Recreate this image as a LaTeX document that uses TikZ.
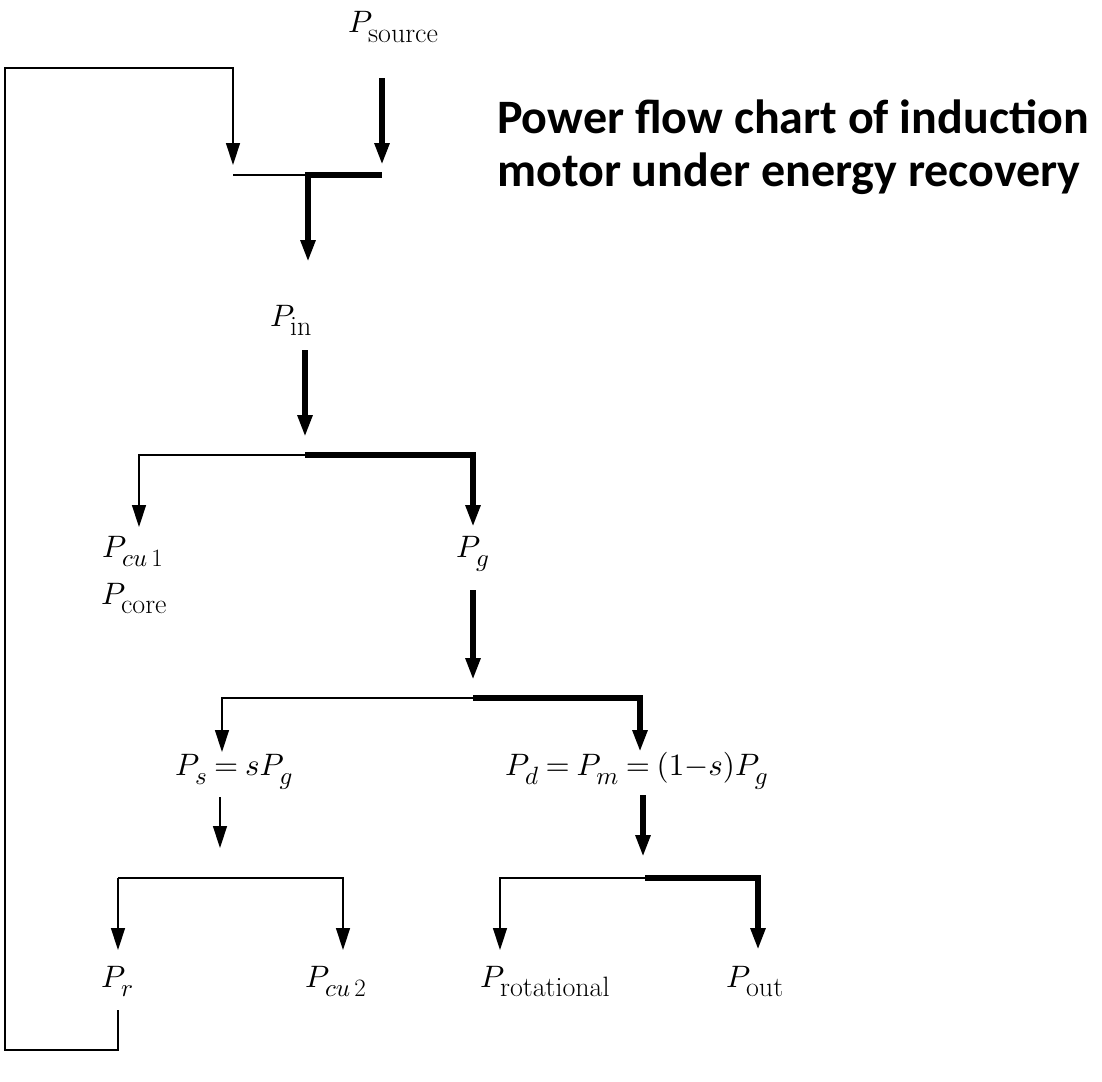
\documentclass[tikz,border=0pt]{standalone}
\usepackage{fontspec}
\DeclareFontShape{OML}{cmm}{m}{it}{<->cmmi10}{}
\DeclareFontShape{OMS}{cmsy}{m}{n}{<->cmsy10}{}
\DeclareFontShape{OT1}{cmr}{m}{n}{<->cmr10}{}
\DeclareFontShape{OMX}{cmex}{m}{n}{<->cmex10}{}
\newfontfamily\titlefont{Carlito}
\thickmuskip=4mu plus 3mu
\newcommand\dn[1]{_{\raisebox{-5pt}{\fontsize{25}{30}\selectfont$#1$}}}
\newcommand\dnr[1]{_{\raisebox{-5pt}{\fontsize{28}{32}\selectfont #1}}}
\usetikzlibrary{arrows.meta}
\begin{document}
\begin{tikzpicture}[x=1pt,y=-1pt,
  thinln/.style={line width=1.4pt},
  thickln/.style={line width=6pt},
  tipped/.style={-{Triangle[length=22pt,width=14pt]}},
  lbl/.style={inner sep=0pt, anchor=base west, font=\fontsize{31}{37}\selectfont},
  line join=miter]
\useasboundingbox (0,0) rectangle (1102,1081);

% labels
\node[lbl] (src) at (348,33) {$P\dnr{source}$};
\node[lbl] (pin) at (270,326) {$P\dnr{in}$};
\node[lbl] (pcu1) at (102,557) {$P\dn{cu\,\mathrm{1}}$};
\node[lbl] (pcore) at (101,604) {$P\dnr{core}$};
\node[lbl] (pg) at (456,557) {$P\dn{g}$};
\node[lbl] (ps) at (175,775) {$P\dn{s} = sP\dn{g}$};
\node[lbl] (pd) at (505,775) {$P\dn{d} = P\dn{m} = (1{-}s)P\dn{g}$};
\node[lbl] (pr) at (101,987) {$P\dn{r}$};
\node[lbl] (pcu2) at (305,987) {$P\dn{cu\,\mathrm{2}}$};
\node[lbl] (prot) at (480,987) {$P\dnr{rotational}$};
\node[lbl] (pout) at (726,987) {$P\dnr{out}$};
\node[anchor=base west, align=left, inner sep=0pt,
      font=\titlefont\bfseries\fontsize{48}{53}\selectfont] (title) at (497,186)
  {Power flow chart of induction\\motor under energy recovery};

% coordinates
\coordinate (s0) at (382,78);   \coordinate (s1) at (382,165);
\coordinate (fbA) at (233,68);  \coordinate (fbB) at (233,165);
\coordinate (j0L) at (233,175); \coordinate (j0M) at (308,175); \coordinate (j0R) at (382,175);
\coordinate (j0D) at (308,262);
\coordinate (i0) at (305,350);  \coordinate (i1) at (305,437);
\coordinate (j1L) at (139,455); \coordinate (j1M) at (305,455); \coordinate (j1R) at (473,455);
\coordinate (j1LD) at (139,527); \coordinate (j1RD) at (473,527);
\coordinate (g0) at (473,590);  \coordinate (g1) at (473,680);
\coordinate (j2L) at (222,698); \coordinate (j2M) at (473,698); \coordinate (j2R) at (640,698);
\coordinate (j2LD) at (222,752); \coordinate (j2RD) at (640,752);
\coordinate (s2a) at (220,797); \coordinate (s2b) at (220,848);
\coordinate (j3L) at (118,878); \coordinate (j3R) at (343,878);
\coordinate (j3LD) at (118,950); \coordinate (j3RD) at (343,950);
\coordinate (m0) at (643,795);  \coordinate (m1) at (643,857);
\coordinate (j4L) at (500,878); \coordinate (j4M) at (645,878); \coordinate (j4R) at (758,878);
\coordinate (j4LD) at (500,950); \coordinate (j4RD) at (758,950);
\coordinate (r0) at (118,1010); \coordinate (r1) at (118,1050);
\coordinate (c0) at (5,1050);   \coordinate (c1) at (5,68);

% source
\draw[thickln,tipped] (s0) -- (s1);
\draw[thinln] (j0L) -- (j0M);
\draw[thickln,tipped] (j0R) -- (j0M) -- (j0D);
% Pin split
\draw[thickln,tipped] (i0) -- (i1);
\draw[thinln,tipped] (j1M) -- (j1L) -- (j1LD);
\draw[thickln,tipped] (j1M) -- (j1R) -- (j1RD);
% Pg split
\draw[thickln,tipped] (g0) -- (g1);
\draw[thinln,tipped] (j2M) -- (j2L) -- (j2LD);
\draw[thickln,tipped] (j2M) -- (j2R) -- (j2RD);
% Ps split
\draw[thinln,tipped] (s2a) -- (s2b);
\draw[thinln,tipped] (j3L) -- (j3LD);
\draw[thinln,tipped] (j3L) -- (j3R) -- (j3RD);
% Pm split
\draw[thickln,tipped] (m0) -- (m1);
\draw[thinln,tipped] (j4M) -- (j4L) -- (j4LD);
\draw[thickln,tipped] (j4M) -- (j4R) -- (j4RD);
% feedback
\draw[thinln,tipped] (r0) -- (r1) -- (c0) -- (c1) -- (fbA) -- (fbB);
\end{tikzpicture}
\end{document}
